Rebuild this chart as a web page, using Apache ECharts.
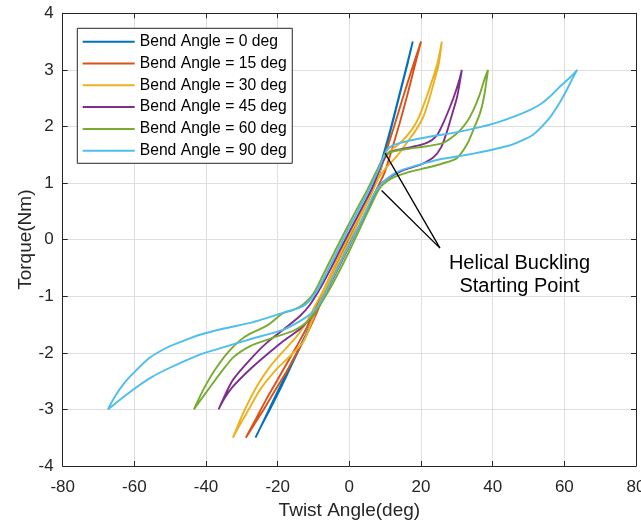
<!DOCTYPE html>
<html>
<head>
<meta charset="utf-8">
<script src="https://cdn.jsdelivr.net/npm/echarts@6/dist/echarts.min.js"></script>
<style>
html,body{margin:0;padding:0;background:#fff;}
#chart{width:641px;height:524px;}
</style>
</head>
<body>
<div id="chart"></div>
<script>
// ---- data (Twist Angle deg, Torque Nm), closed hysteresis loops ----
const seriesNames = ['Bend Angle = 0 deg','Bend Angle = 15 deg','Bend Angle = 30 deg','Bend Angle = 45 deg','Bend Angle = 60 deg','Bend Angle = 90 deg'];
const seriesColors = ['#0072BD','#D95319','#EDB120','#7E2F8E','#77AC30','#4DBEEE'];

const bend0 = [[-26.2,-3.5],[-23,-3.08],[-20.3,-2.72],[-17.5,-2.36],[-14.7,-2.0],[-12,-1.66],[-10,-1.38],[-7,-0.95],[-4,-0.5],[-1,-0.08],[2,0.33],[5,0.72],[7.5,1.08],[9.5,1.5],[11.5,1.96],[13.5,2.45],[15.6,2.97],[17.7,3.5],
  [16.4,3.15],[14.4,2.65],[12.4,2.15],[10.6,1.7],[8.8,1.25],[6.5,0.9],[3.5,0.48],[0.5,0.04],[-2.5,-0.33],[-5.5,-0.72],[-8.5,-1.15],[-10.5,-1.46],[-13,-1.8],[-16,-2.2],[-19,-2.6],[-22,-2.98],[-24.5,-3.28],[-26.2,-3.5]];

const bend15 = [[-28.9,-3.5],[-26,-3.16],[-23,-2.8],[-20,-2.47],[-17,-2.14],[-14.5,-1.86],[-12,-1.57],[-9.5,-1.22],[-7,-0.88],[-4,-0.46],[-1,-0.05],[2,0.34],[5,0.72],[7.5,1.06],[9.8,1.48],[12.3,1.96],[14.8,2.48],[17.4,3.0],[20,3.5],
  [18.3,3.08],[16.2,2.56],[14,2.05],[11.8,1.58],[9.8,1.18],[7.5,0.88],[4.5,0.48],[1.5,0.08],[-1.5,-0.3],[-4.5,-0.68],[-7.5,-1.06],[-10.2,-1.45],[-12.4,-1.74],[-14.8,-2.02],[-17.5,-2.33],[-20.5,-2.64],[-23.5,-2.96],[-26.5,-3.26],[-28.9,-3.5]];

const bend30 = [[-32.5,-3.5],[-29.6,-3.06],[-25.8,-2.59],[-22.1,-2.24],[-18.4,-1.97],[-14.7,-1.71],[-11.9,-1.45],[-9.5,-1.16],[-7,-0.86],[-4,-0.45],[-1,-0.05],[2,0.33],[5,0.7],[7.5,1.04],[9.5,1.38],[11.2,1.56],[14.2,1.71],[17.4,1.94],[19.5,2.18],[21.6,2.53],[23.3,2.85],[24.6,3.12],[25.8,3.5],
  [25,3.12],[23.9,2.85],[22.5,2.53],[20.7,2.18],[18.6,1.94],[16,1.71],[13.2,1.47],[10.4,1.28],[8.1,1.08],[6,0.78],[3,0.38],[0,-0.02],[-3,-0.4],[-6,-0.8],[-8.5,-1.14],[-10.5,-1.45],[-12.8,-1.8],[-16.6,-2.06],[-20.3,-2.29],[-24.9,-2.65],[-28.6,-3.06],[-30.8,-3.3],[-32.5,-3.5]];

const bend45 = [[-36.5,-3.0],[-34.5,-2.72],[-32.4,-2.47],[-27.7,-2.12],[-23,-1.82],[-18.4,-1.59],[-13.8,-1.35],[-11,-1.15],[-8.5,-0.9],[-5.5,-0.55],[-2.5,-0.17],[0.5,0.2],[3.5,0.56],[6.5,0.93],[8.8,1.3],[10.4,1.5],[12.3,1.57],[16.9,1.63],[21.6,1.71],[24.4,1.84],[26.2,2.06],[27.8,2.3],[29.2,2.53],[30.5,2.78],[31.4,3.0],
  [30.1,2.53],[28.6,2.2],[27.2,1.9],[25.6,1.63],[23.4,1.45],[19.7,1.32],[15.1,1.23],[11.4,1.11],[8.6,0.96],[6,0.65],[3,0.27],[0,-0.1],[-3,-0.48],[-6,-0.86],[-8.5,-1.16],[-10,-1.33],[-13.8,-1.58],[-18.4,-1.79],[-23,-2.03],[-27.7,-2.29],[-32.4,-2.59],[-34.8,-2.8],[-36.5,-3.0]];

const bend60 = [[-43.4,-3.0],[-40.5,-2.62],[-37.5,-2.3],[-34,-2.0],[-30.5,-1.78],[-27.7,-1.66],[-23,-1.52],[-20,-1.37],[-18.5,-1.3],[-15.6,-1.24],[-12.8,-1.14],[-10,-0.95],[-7,-0.58],[-4,-0.2],[-1,0.17],[2,0.53],[5,0.88],[7.5,1.2],[9.8,1.48],[12.3,1.56],[16.9,1.61],[21.6,1.65],[26.2,1.71],[28.5,1.8],[30.9,1.93],[33,2.1],[34.6,2.29],[36.3,2.55],[37.8,2.85],[38.7,3.0],
  [37.6,2.53],[36.5,2.24],[34.6,1.94],[32.8,1.68],[30,1.44],[26.2,1.35],[21.6,1.27],[16.9,1.2],[12.3,1.1],[8.6,0.92],[6,0.6],[3,0.2],[0,-0.2],[-3,-0.58],[-6,-0.93],[-9.1,-1.24],[-11.9,-1.46],[-15.6,-1.61],[-20.3,-1.71],[-23,-1.77],[-27.7,-1.88],[-32.4,-2.08],[-36,-2.36],[-39.5,-2.66],[-43.4,-3.0]];

const bend90 = [[-67.4,-3.0],[-65.5,-2.78],[-63,-2.55],[-60.3,-2.36],[-56,-2.1],[-51,-1.91],[-46,-1.78],[-41.7,-1.68],[-35,-1.57],[-27.7,-1.47],[-18.4,-1.29],[-12.8,-1.17],[-9.5,-0.95],[-6.5,-0.6],[-3.5,-0.22],[-0.5,0.16],[2.5,0.52],[5.5,0.88],[8,1.22],[10,1.53],[11.4,1.64],[14.2,1.71],[21.6,1.81],[30.9,1.91],[40.2,2.05],[48.6,2.24],[53,2.38],[56,2.53],[59,2.72],[61.5,2.86],[63.6,3.0],
  [62.3,2.85],[60.7,2.65],[58.5,2.4],[56,2.16],[51.4,1.86],[47,1.72],[43.9,1.65],[34.6,1.52],[25.3,1.42],[21.6,1.36],[15.1,1.24],[11.4,1.12],[7.6,0.88],[5,0.55],[2,0.15],[-1,-0.22],[-4,-0.6],[-7,-0.98],[-10,-1.27],[-13.8,-1.44],[-18.4,-1.59],[-27.7,-1.76],[-35,-1.9],[-41.7,-2.03],[-51,-2.29],[-56,-2.46],[-60.3,-2.65],[-64,-2.83],[-67.4,-3.0]];

const loops = [bend0, bend15, bend30, bend45, bend60, bend90];

// annotation pointer: arrow tip 1 -> label anchor -> arrow tip 2
const pointerLines = [[9.96,1.53],[25.3,-0.15],[9.0,0.87]];
const annotationText = 'Helical Buckling\nStarting Point';

const xTicks = {min:-80, max:80, interval:20};
const yTicks = {min:-4, max:4, interval:1};

const FONT = 'Liberation Sans, Arial, Helvetica, sans-serif';
const AXC = '#262626';

const chart = echarts.init(document.getElementById('chart'), null, {renderer:'canvas'});

const series = loops.map((d,i)=>({
  name: seriesNames[i], type:'line', data:d, showSymbol:false, smooth:0.25,
  lineStyle:{width:1.9, color:seriesColors[i]}, itemStyle:{color:seriesColors[i]},
  emphasis:{disabled:true}, animation:false, z:2+i
}));
series.push({
  name:'pointer', type:'line', data:pointerLines, showSymbol:false,
  lineStyle:{width:1.3, color:'#000'}, emphasis:{disabled:true}, animation:false, z:10
});

chart.setOption({
  backgroundColor:'#fff',
  animation:false,
  grid: {left:62.7, top:13.3, width:573.3, height:452.7, containLabel:false, outerBoundsMode:'none'},
  legend:{
    data: seriesNames, orient:'vertical', left:77.3, top:28.3,
    icon:'rect', itemWidth:52, itemHeight:2, itemGap:3.8, itemTextGap:5,
    padding:[4.4,5.6,3.6,5.4],
    backgroundColor:'#fff', borderColor:'#262626', borderWidth:1,
    textStyle:{fontFamily:FONT, fontSize:15.7, color:'#000', lineHeight:18},
    selectedMode:false
  },
  xAxis:[{
    type:'value', min:xTicks.min, max:xTicks.max, interval:xTicks.interval, position:'bottom',
    name:'Twist Angle(deg)', nameLocation:'middle', nameGap:35, nameMoveOverlap:false,
    nameTextStyle:{fontFamily:FONT, fontSize:19, color:AXC},
    axisLine:{show:true, onZero:false, lineStyle:{color:AXC, width:1}},
    axisTick:{show:true, inside:true, length:5, lineStyle:{color:AXC}},
    axisLabel:{fontFamily:FONT, fontSize:17, color:AXC, margin:13, showMinLabel:true, showMaxLabel:true, hideOverlap:false},
    splitLine:{show:true, lineStyle:{color:'#dfdfdf', width:1}}
  },{
    type:'value', min:xTicks.min, max:xTicks.max, interval:xTicks.interval, position:'top',
    axisLine:{show:true, onZero:false, lineStyle:{color:AXC, width:1}},
    axisTick:{show:true, inside:true, length:5, lineStyle:{color:AXC}},
    axisLabel:{show:false}, splitLine:{show:false}
  }],
  yAxis:[{
    type:'value', min:yTicks.min, max:yTicks.max, interval:yTicks.interval, position:'left',
    name:'Torque(Nm)', nameLocation:'middle', nameGap:27, nameMoveOverlap:false,
    nameTextStyle:{fontFamily:FONT, fontSize:19, color:AXC},
    axisLine:{show:true, onZero:false, lineStyle:{color:AXC, width:1}},
    axisTick:{show:true, inside:true, length:5, lineStyle:{color:AXC}},
    axisLabel:{fontFamily:FONT, fontSize:17, color:AXC, margin:9, showMinLabel:true, showMaxLabel:true},
    splitLine:{show:true, lineStyle:{color:'#dfdfdf', width:1}}
  },{
    type:'value', min:yTicks.min, max:yTicks.max, interval:yTicks.interval, position:'right',
    axisLine:{show:true, onZero:false, lineStyle:{color:AXC, width:1}},
    axisTick:{show:true, inside:true, length:5, lineStyle:{color:AXC}},
    axisLabel:{show:false}, splitLine:{show:false}
  }],
  series: series,
  graphic:[{
    type:'text', x: 519.5, y: 251.6, z:20,
    style:{text:annotationText, fontFamily:FONT, fontSize:20, lineHeight:23, fill:'#000', align:'center', verticalAlign:'top'}
  }]
});
</script>
</body>
</html>
